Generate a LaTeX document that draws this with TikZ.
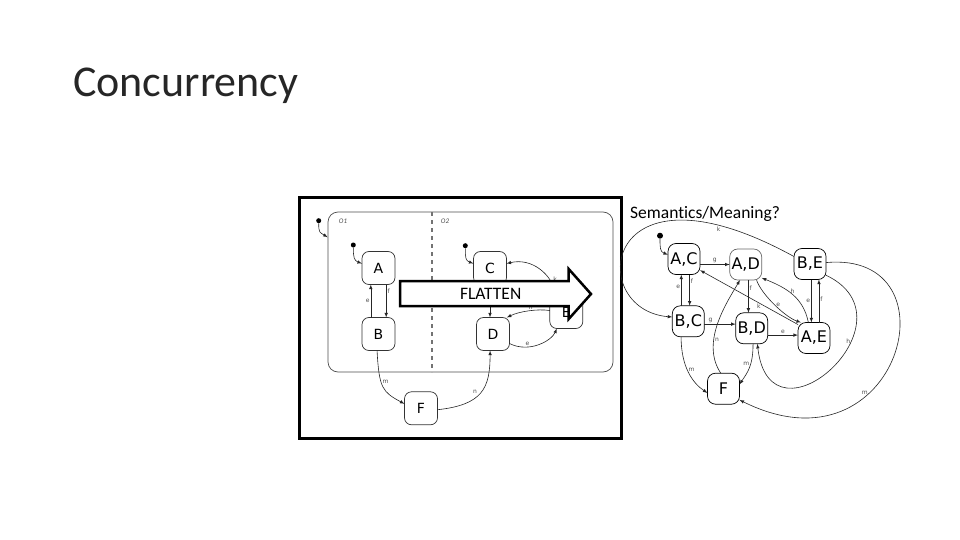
\documentclass[tikz,border=0pt]{standalone}
\usepackage{fontspec}
\setmainfont{Carlito}[Ligatures=NoCommon]
\newfontfamily\dejavu{DejaVu Sans}
\begin{document}
\begin{tikzpicture}[x=1pt, y=-1pt, >=latex,
    lstate/.style={draw=black!80, line width=0.7pt, rounded corners=7pt, minimum width=33pt, minimum height=33pt, inner sep=0pt, outer sep=0pt, font=\dejavu\fontsize{14}{14}\selectfont},
    rstate/.style={lstate, draw=black, minimum width=32pt, minimum height=31pt, rounded corners=8pt, font=\dejavu\fontsize{16}{16}\selectfont},
    lbl/.style={font=\dejavu\fontsize{6}{6}\selectfont, text=black!70, inner sep=1pt},
    dot/.style={circle, fill=black, inner sep=0pt, minimum size=5pt},
    trans/.style={->, line width=0.6pt, black!85}]
    \useasboundingbox (0,0) rectangle (960,540);
    \node[anchor=base west, inner sep=0pt, text=black!85, font=\fontsize{44}{44}\selectfont] (title) at (73,97) {Concurrency};
    \draw[line width=3pt] (299,197.5) rectangle (621,438);
    \draw[black!70, line width=0.7pt, rounded corners=10pt] (328,212) rectangle (613,372);
    \draw[black!55, line width=1.5pt, dash pattern=on 4pt off 4pt] (432,212) -- (432,372);
    \node[font=\itshape\fontsize{7}{7}\selectfont, text=black!70] (o1) at (343,221) {O1};
    \node[font=\itshape\fontsize{7}{7}\selectfont, text=black!70] (o2) at (445,221) {O2};
    \node[lstate] (A) at (378.5,268) {A};
    \node[lstate] (B) at (378.5,334) {B};
    \node[lstate] (C) at (490,268) {C};
    \node[lstate] (D) at (493,334) {D};
    \node[lstate] (E) at (566.3,312) {E};
    \node[lstate] (F) at (421,408.3) {F};
    \node[dot] (i0) at (318.7,220.7) {};
    \node[dot] (iA) at (353.3,245) {};
    \node[dot] (iC) at (465.3,245.7) {};
    \coordinate (o) at (327.7,237.3);
    \draw[trans] (i0) .. controls +(0,12) and +(-8,-5) .. (o);
    \draw[trans] (iA) .. controls +(0,12) and +(-8,-3) .. (A.165);
    \draw[trans] (iC) .. controls +(0,12) and +(-8,-3) .. (C.165);
    \draw[trans] (A.-65) -- (A.-65 |- B.north) node[lbl, pos=0.2, right] (lf) {f};
    \draw[trans] (B.115) -- (B.115 |- A.south) node[lbl, midway, left] (le) {e};
    \draw[trans] (C.south) -- (C.south |- D.north);
    \draw[trans] (E.120) .. controls +(-5,-22) and +(25,-6) .. (C.15) node[lbl, pos=0.2, above right] (lk) {k};
    \draw[trans] (E.175) .. controls +(-12,-2) and +(12,-6) .. (D.50) node[lbl, pos=0.45, above] (lh) {h};
    \draw[trans] (D.-30) .. controls +(20,10) and +(-5,12) .. (E.-120) node[lbl, pos=0.3, above] (le2) {e};
    \draw[trans] (B.-95) .. controls +(2,38) and +(-22,-12) .. (F.165) node[lbl, pos=0.4, right] (lm) {m};
    \draw[trans] (F.-5) .. controls +(45,-5) and +(0,38) .. (D.-100) node[lbl, pos=0.45, above left] (ln) {n};
    \filldraw[white, draw=black, line width=2.5pt] (400,281) -- (568.7,281) -- (568.7,269) -- (591,294) -- (568.7,319) -- (568.7,306) -- (400,306) -- cycle;
    \node[font=\fontsize{17.5}{17.5}\selectfont] (flat) at (490.7,294) {FLATTEN};
    \node[anchor=base west, inner sep=0pt, font=\fontsize{17.5}{17.5}\selectfont] (sem) at (630,218.3) {Semantics/Meaning?};
    \node[rstate] (AC) at (684,259) {A,C};
    \node[rstate, draw=black!60] (AD) at (745.7,264.5) {A,D};
    \node[rstate] (BE) at (810,264) {B,E};
    \node[rstate] (BC) at (688.3,321.3) {B,C};
    \node[rstate] (BD) at (751.7,328.3) {B,D};
    \node[rstate] (AE) at (814,338) {A,E};
    \node[rstate] (FF) at (723.5,388.7) {F};
    \node[dot, minimum size=6pt] (i1) at (660,235.7) {};
    \draw[trans] (i1) .. controls +(0,12) and +(-8,-3) .. (AC.165);
    \draw[trans] (AC.east |- AD.west) -- (AD.west) node[lbl, midway, above] (rg1) {g};
    \draw[trans] (AC.-70) -- (AC.-70 |- BC.north) node[lbl, pos=0.2, right] (rf1) {f};
    \draw[trans] (AC.-100 |- BC.north) -- (AC.-100) node[lbl, pos=0.6, left] (re1) {e};
    \draw[trans] (BC.-10) -- (BC.-10 -| BD.west) node[lbl, pos=0.2, above] (rg2) {g};
    \draw[trans] (AD.-80) -- (AD.-80 |- BD.north) node[lbl, pos=0.25, right] (rf2) {f};
    \draw[trans] (BD.-23) -- (BD.-23 -| AE.west) node[lbl, midway, above] (re2) {e};
    \draw[trans] (AD.-55) .. controls +(5,15) and +(-15,-5) .. (AE.130) node[lbl, pos=0.5, right] (re3) {e};
    \draw[trans] (AE.110) .. controls +(-5,-25) and +(25,10) .. (AD.-40) node[lbl, pos=0.5, above] (rh1) {h};
    \draw[trans] (AE.140) -- (AC.-35) node[lbl, pos=0.4, below] (rk1) {k};
    \draw[trans] (BE.-85) -- (BE.-85 |- AE.north) node[lbl, midway, left] (re4) {e};
    \draw[trans] (BE.-60 |- AE.north) -- (BE.-60) node[lbl, pos=0.55, right] (rf3) {f};
    \draw[trans] (BE.155) .. controls (600,150) and (585,310) .. (BC.165) node[lbl, pos=0.15, below] (rk2) {k};
    \draw[trans] (BC.-115) .. controls +(0,30) and +(-15,-10) .. (FF.195) node[lbl, pos=0.45, right] (rm1) {m};
    \draw[trans] (BD.-85) .. controls +(0,22) and +(8,-12) .. (FF.15) node[lbl, pos=0.4, left] (rm2) {m};
    \draw[trans] (FF.100) .. controls +(-20,-30) and +(-15,25) .. (AD.-110) node[lbl, pos=0.35, right] (rn) {n};
    \draw[trans] (BE.-35) .. controls (920,320) and (770,455) .. (BD.-70) node[lbl, pos=0.35, left] (rh2) {h};
    \draw[trans] (BE.5) .. controls (960,250) and (900,480) .. (FF.-35) node[lbl, pos=0.66, above] (rm3) {m};
\end{tikzpicture}
\end{document}
